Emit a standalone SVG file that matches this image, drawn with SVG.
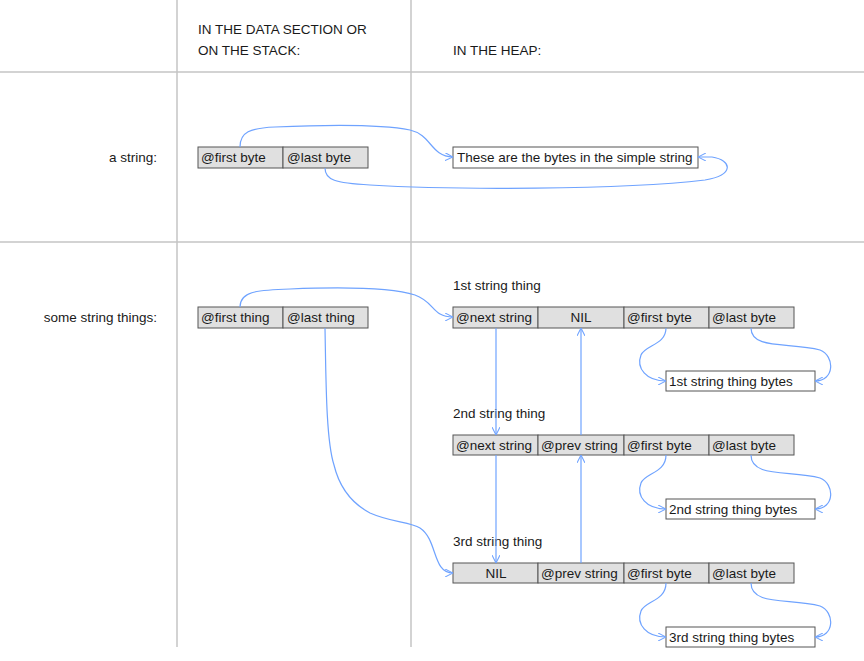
<svg xmlns="http://www.w3.org/2000/svg" width="864" height="661" viewBox="0 0 864 661">
<style>
text{font-family:"Liberation Sans",Arial,sans-serif;font-size:13.5px;fill:#1a1a1a}
.hdr{font-size:13.5px}
.grid{stroke:#c4c4c4;stroke-width:1.5;fill:none}
.cell{fill:#e0e0e0;stroke:#555;stroke-width:1}
.wbox{fill:#fff;stroke:#555;stroke-width:1}
.c{fill:none;stroke:#6fa3ff;stroke-width:1.2;marker-end:url(#ah)}
.mid{text-anchor:middle}
.end{text-anchor:end}
</style>
<defs>
<marker id="ah" viewBox="0 0 10 10" refX="10" refY="5" markerWidth="8" markerHeight="8" markerUnits="userSpaceOnUse" orient="auto">
<polyline points="0,0 10,5 0,10" fill="none" stroke="#6fa3ff" stroke-width="1.3"/>
</marker>
</defs>
<rect width="864" height="661" fill="#fff"/>
<g id="grid">
<line class="grid" x1="177" y1="0" x2="177" y2="647"/>
<line class="grid" x1="411" y1="0" x2="411" y2="647"/>
<line class="grid" x1="0" y1="72" x2="864" y2="72"/>
<line class="grid" x1="0" y1="242" x2="864" y2="242"/>
</g>
<g id="headers">
<text class="hdr" x="198" y="34">IN THE DATA SECTION OR</text>
<text class="hdr" x="198" y="55">ON THE STACK:</text>
<text class="hdr" x="453" y="55">IN THE HEAP:</text>
<text class="end" x="157" y="162">a string:</text>
<text class="end" x="157" y="322">some string things:</text>
</g>
<g id="string-ptrs">
<rect class="cell" x="198" y="147" width="85" height="21"/>
<rect class="cell" x="283" y="147" width="85" height="21"/>
<text x="201" y="162">@first byte</text>
<text x="287" y="162">@last byte</text>
</g>
<g id="string-bytes">
<rect class="wbox" x="453" y="147" width="245" height="21"/>
<text x="457" y="162">These are the bytes in the simple string</text>
</g>
<g id="things-ptrs">
<rect class="cell" x="198" y="307" width="85" height="21"/>
<rect class="cell" x="283" y="307" width="85" height="21"/>
<text x="201" y="322">@first thing</text>
<text x="287" y="322">@last thing</text>
</g>
<g id="thing1">
<text x="453" y="290">1st string thing</text>
<rect class="cell" x="453" y="307" width="85" height="21"/>
<rect class="cell" x="538" y="307" width="86" height="21"/>
<rect class="cell" x="624" y="307" width="85" height="21"/>
<rect class="cell" x="709" y="307" width="85" height="21"/>
<text x="456" y="322">@next string</text>
<text class="mid" x="581" y="322">NIL</text>
<text x="627" y="322">@first byte</text>
<text x="712" y="322">@last byte</text>
</g>
<g id="thing1-bytes">
<rect class="wbox" x="666" y="371" width="149" height="20"/>
<text x="669" y="386">1st string thing bytes</text>
</g>
<g id="thing2">
<text x="453" y="418">2nd string thing</text>
<rect class="cell" x="453" y="435" width="85" height="20"/>
<rect class="cell" x="538" y="435" width="86" height="20"/>
<rect class="cell" x="624" y="435" width="85" height="20"/>
<rect class="cell" x="709" y="435" width="85" height="20"/>
<text x="456" y="450">@next string</text>
<text x="541" y="450">@prev string</text>
<text x="627" y="450">@first byte</text>
<text x="712" y="450">@last byte</text>
</g>
<g id="thing2-bytes">
<rect class="wbox" x="666" y="499" width="149" height="20"/>
<text x="669" y="514">2nd string thing bytes</text>
</g>
<g id="thing3">
<text x="453" y="546">3rd string thing</text>
<rect class="cell" x="453" y="563" width="85" height="20"/>
<rect class="cell" x="538" y="563" width="86" height="20"/>
<rect class="cell" x="624" y="563" width="85" height="20"/>
<rect class="cell" x="709" y="563" width="85" height="20"/>
<text class="mid" x="496" y="578">NIL</text>
<text x="541" y="578">@prev string</text>
<text x="627" y="578">@first byte</text>
<text x="712" y="578">@last byte</text>
</g>
<g id="thing3-bytes">
<rect class="wbox" x="666" y="627" width="149" height="20"/>
<text x="669" y="642">3rd string thing bytes</text>
</g>
<g id="connectors">
<path class="c" d="M240,147 C240,132 250,128 275,127 C320,125 380,124 410,130 C432,135 430,156 453,157"/>
<path class="c" d="M325,168 C325,180 335,183 370,185 C450,190 620,190 705,180 C735,175 732,160 712,157 L698,157"/>
<path class="c" d="M240,307 C240,292 255,290 290,289 C340,287 390,287 415,295 C435,302 432,317 453,317"/>
<path class="c" d="M325,328 C326,380 326,440 334,465 C340,490 355,505 370,513 C390,522 410,522 420,528 C438,540 432,573 453,573"/>
<path class="c" d="M496,328 L496,435"/>
<path class="c" d="M496,455 L496,563"/>
<path class="c" d="M581,435 L581,328"/>
<path class="c" d="M581,563 L581,455"/>
<path class="c" d="M666,328 C666,345 645,345 641,355 C636,368 646,381 666,381"/>
<path class="c" d="M751,328 C751,350 790,342 820,350 C835,356 835,381 815,381"/>
<path class="c" d="M666,455 C666,473 645,473 641,483 C636,496 646,509 666,509"/>
<path class="c" d="M751,455 C751,478 790,470 820,478 C835,484 835,509 815,509"/>
<path class="c" d="M666,583 C666,601 645,601 641,611 C636,624 646,637 666,637"/>
<path class="c" d="M751,583 C751,606 790,598 820,606 C835,612 835,637 815,637"/>
</g>
</svg>
